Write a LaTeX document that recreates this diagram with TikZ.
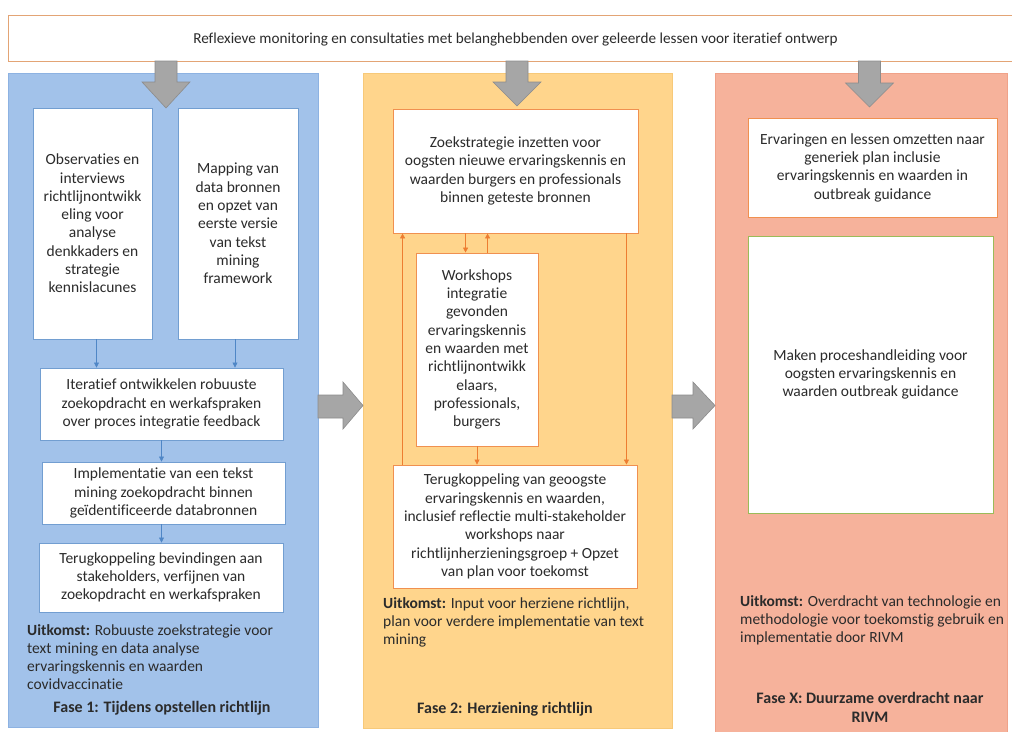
\documentclass[tikz,border=0pt]{standalone}
\usepackage{fontspec}
\setmainfont{Carlito}[Ligatures=NoCommon]
\usetikzlibrary{arrows.meta,calc}
\definecolor{colblue}{HTML}{A2C2EA}
\definecolor{colblueedge}{HTML}{8DB2E2}
\definecolor{colyellow}{HTML}{FFD58C}
\definecolor{colyellowedge}{HTML}{F7C979}
\definecolor{colsalmon}{HTML}{F6B29B}
\definecolor{colsalmonedge}{HTML}{F0A289}
\definecolor{linkblue}{HTML}{4F86C6}
\definecolor{linkorange}{HTML}{ED7D31}
\definecolor{boxgreen}{HTML}{9BBB59}
\definecolor{bannerorange}{HTML}{E3A475}
\definecolor{arrowgray}{HTML}{A6A6A6}
\definecolor{arrowgrayedge}{HTML}{8C8C8C}
\definecolor{txt}{HTML}{2B2B2B}
\begin{document}
\begin{tikzpicture}[x=1pt,y=-1pt,
  every node/.style={text=txt},
  colrect/.style={draw=#1edge, fill=#1, line width=0.8pt, minimum width=0pt, minimum height=0pt, inner sep=0pt, anchor=north west},
  boxbase/.style={fill=white, line width=0.9pt, inner sep=0pt, align=center, font=\fontsize{15.5}{18.3}\selectfont},
  bbox/.style={boxbase, draw=linkblue!80},
  obox/.style={boxbase, draw=linkorange!85},
  gbox/.style={boxbase, draw=boxgreen},
  outtext/.style={inner sep=0pt, anchor=north west, align=left, font=\fontsize{15.5}{18.3}\selectfont},
  fasetext/.style={inner sep=0pt, align=center, font=\fontsize{16}{19}\selectfont\bfseries},
  barrow/.style={draw=linkblue, line width=0.7pt, -{Triangle[length=5pt,width=5pt]}},
  oarrow/.style={draw=linkorange, line width=0.7pt, -{Triangle[length=5pt,width=5pt]}},
  blockarrow/.style={fill=arrowgray, draw=arrowgrayedge, line width=0.6pt, line join=miter}
]
\useasboundingbox (0,0) rectangle (1012,731);
\fill[white] (0,0) rectangle (1012,731);

% banner
\fill[white] (8,15) rectangle (1012,61);
\draw[bannerorange, line width=1pt] (1012,15) -- (8,15) -- (8,61) -- (1012,61);
\node[anchor=base, inner sep=0pt, font=\fontsize{15.2}{18}\selectfont] (banner) at (515.5,43)
  {Reflexieve monitoring en consultaties met belanghebbenden over geleerde lessen voor iteratief ontwerp};

% columns
\node[colrect=colblue, minimum width=310pt, minimum height=654pt] (c1) at (8,73) {};
\node[colrect=colyellow, minimum width=309pt, minimum height=655pt] (c2) at (363,73) {};
\node[colrect=colsalmon, minimum width=292pt, minimum height=660pt] (c3) at (715,73) {};

% gray down arrows
\foreach \cx/\hs/\tip in {166/82/108, 517/82/106, 869.5/83/107} {
  \draw[blockarrow] (\cx-11,61) -- (\cx+11,61) -- (\cx+11,\hs) -- (\cx+24,\hs) -- (\cx,\tip)
     -- (\cx-24,\hs) -- (\cx-11,\hs) -- cycle;
}
% gray right arrows
\draw[blockarrow] (318,395) -- (343,395) -- (343,382) -- (363,405.5) -- (343,429) -- (343,418) -- (318,418) -- cycle;
\draw[blockarrow] (672,395) -- (693,395) -- (693,382) -- (715,405.5) -- (693,429) -- (693,418) -- (672,418) -- cycle;

% column 1 boxes
\node[bbox, minimum width=119pt, minimum height=231pt] (A) at (92.5,223.5)
  {Observaties en\\interviews\\richtlijnontwikk\\eling voor\\analyse\\denkkaders en\\strategie\\kennislacunes};
\node[bbox, minimum width=120pt, minimum height=231pt] (B) at (238,223.5)
  {Mapping van\\data bronnen\\en opzet van\\eerste versie\\van tekst\\mining\\framework};
\node[bbox, minimum width=243pt, minimum height=72pt] (C) at (161.5,404)
  {Iteratief ontwikkelen robuuste\\zoekopdracht en werkafspraken\\over proces integratie feedback};
\node[bbox, minimum width=243pt, minimum height=62pt] (D) at (163.5,493)
  {Implementatie van een tekst\\mining zoekopdracht binnen\\geïdentificeerde databronnen};
\node[bbox, minimum width=244pt, minimum height=69pt] (E) at (161,577.5)
  {Terugkoppeling bevindingen aan\\stakeholders, verfijnen van\\zoekopdracht en werkafspraken};

\draw[barrow] ([xshift=4pt]A.south) -- ([xshift=4pt]A.south |- C.north);
\draw[barrow] ([xshift=-3pt]B.south) -- ([xshift=-3pt]B.south |- C.north);
\draw[barrow] (C.south) -- (C.south |- D.north);
\draw[barrow] (C.south |- D.south) -- (C.south |- E.north);

\node[outtext] (u1) at (27,624)
  {\textbf{Uitkomst:} Robuuste zoekstrategie voor\\text mining en data analyse\\ervaringskennis en waarden\\covidvaccinatie};
\node[fasetext, anchor=base] (f1) at (162,712) {Fase 1: Tijdens opstellen richtlijn};

% column 2 boxes
\node[obox, minimum width=245pt, minimum height=124pt] (F) at (515.5,171)
  {Zoekstrategie inzetten voor\\oogsten nieuwe ervaringskennis en\\waarden burgers en professionals\\binnen geteste bronnen};
\node[obox, minimum width=122pt, minimum height=193pt] (G) at (477,349.5)
  {Workshops\\integratie\\gevonden\\ervaringskennis\\en waarden met\\richtlijnontwikk\\elaars,\\professionals,\\burgers};
\node[obox, minimum width=244pt, minimum height=123pt] (H) at (515,526.5)
  {Terugkoppeling van geoogste\\ervaringskennis en waarden,\\inclusief reflectie multi-stakeholder\\workshops naar\\richtlijnherzieningsgroep + Opzet\\van plan voor toekomst};

\draw[oarrow] ([xshift=10pt]H.north west) -- ([xshift=10pt]H.north west |- F.south);
\draw[oarrow] ([xshift=50pt]G.north west |- F.south) -- ([xshift=50pt]G.north west);
\draw[oarrow] ([xshift=72pt]G.north west) -- ([xshift=72pt]G.north west |- F.south);
\draw[oarrow] ([xshift=-12pt]F.south east) -- ([xshift=-12pt]F.south east |- H.north);
\draw[oarrow] (G.south) -- (G.south |- H.north);

\node[outtext] (u2) at (383,597)
  {\textbf{Uitkomst:} Input voor herziene richtlijn,\\plan voor verdere implementatie van text\\mining};
\node[fasetext, anchor=base] (f2) at (505,713) {Fase 2: Herziening richtlijn};

% column 3 boxes
\node[obox, minimum width=249pt, minimum height=99pt] (I) at (872.5,167.5)
  {Ervaringen en lessen omzetten naar\\generiek plan inclusie\\ervaringskennis en waarden in\\outbreak guidance};
\node[gbox, minimum width=245pt, minimum height=277pt] (J) at (870.5,374.5)
  {Maken proceshandleiding voor\\oogsten ervaringskennis en\\waarden outbreak guidance};

\node[outtext] (u3) at (740,595)
  {\textbf{Uitkomst:} Overdracht van technologie en\\methodologie voor toekomstig gebruik en\\implementatie door RIVM};
\node[fasetext, anchor=north] (f3) at (870,692) {Fase X: Duurzame overdracht naar\\RIVM};
\end{tikzpicture}
\end{document}
